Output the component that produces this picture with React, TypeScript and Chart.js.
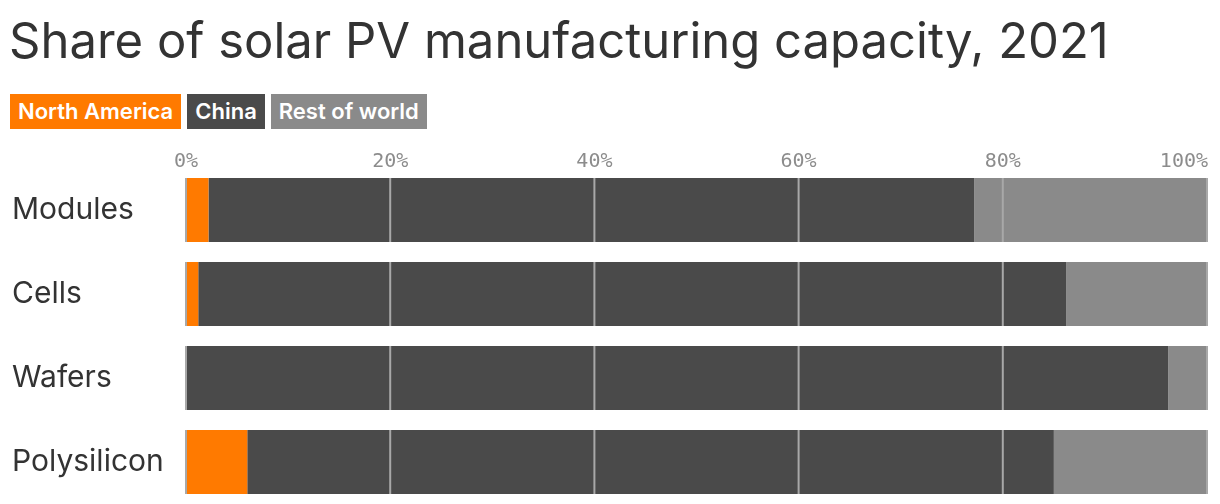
import React, { useEffect, useRef } from "react";
import { Chart, registerables } from "chart.js";

Chart.register(...registerables);

const categories = ["Modules", "Cells", "Wafers", "Polysilicon"];
const seriesNames = ["North America", "China", "Rest of world"];
const northAmerica = [2.2, 1.2, 0, 6.0];
const china = [75.0, 85.0, 96.2, 79.0];
const restOfWorld = [22.8, 13.8, 3.8, 15.0];
const tickValues = [0, 20, 40, 60, 80, 100];
const tickLabels = ["0%", "20%", "40%", "60%", "80%", "100%"];
const colors = ["#ff7a00", "#4a4a4a", "#8a8a8a"];

const tickLabelPlugin = {
  id: "topTickLabels",
  afterDatasetsDraw(chart: any) {
    const scale = chart.scales.x;
    const ctx = chart.ctx;
    ctx.save();
    // grid lines drawn only across the bars
    const meta = chart.getDatasetMeta(0);
    ctx.strokeStyle = "#a8a8a8";
    ctx.lineWidth = 2;
    meta.data.forEach((bar: any) => {
      const top = bar.y - bar.height / 2;
      const bottom = bar.y + bar.height / 2;
      tickValues.forEach((v) => {
        const x = scale.getPixelForValue(v);
        ctx.beginPath();
        ctx.moveTo(x, top);
        ctx.lineTo(x, bottom);
        ctx.stroke();
      });
    });
    ctx.font = "20px 'DejaVu Sans Mono', monospace";
    ctx.fillStyle = "#8c8c8c";
    ctx.textBaseline = "middle";
    tickValues.forEach((v, i) => {
      const x = scale.getPixelForValue(v);
      const last = i === tickValues.length - 1;
      ctx.textAlign = last ? "right" : "center";
      ctx.fillText(tickLabels[i], last ? x + 1 : x, 22);
    });
    ctx.restore();
  },
};

export default function App() {
  const ref = useRef<HTMLCanvasElement | null>(null);
  useEffect(() => {
    if (!ref.current) return;
    const data = [northAmerica, china, restOfWorld];
    const chart = new Chart(ref.current, {
      type: "bar",
      data: {
        labels: categories,
        datasets: seriesNames.map((name, i) => ({
          label: name,
          data: data[i],
          backgroundColor: colors[i],
          borderWidth: 0,
          barPercentage: 1,
          categoryPercentage: 64 / 84,
        })),
      },
      options: {
        indexAxis: "y",
        animation: false,
        responsive: false,
        maintainAspectRatio: false,
        layout: { padding: { top: 28, bottom: 0, left: 12, right: 13 } },
        plugins: {
          legend: { display: false },
          tooltip: { enabled: false },
        },
        scales: {
          x: {
            stacked: true,
            position: "top",
            min: 0,
            max: 100,
            ticks: { display: false, stepSize: 20 },
            grid: { display: false, drawTicks: false },
            border: { display: false },
          },
          y: {
            stacked: true,
            grid: { display: false },
            border: { display: false },
            ticks: {
              crossAlign: "far",
              padding: 0,
              color: "#333333",
              font: { family: "Inter, 'Noto Sans', sans-serif", size: 30 },
            },
            afterFit(scale: any) {
              scale.width = 174;
              scale.paddingTop = 0;
              scale.paddingBottom = 0;
            },
          },
        },
      } as any,
      plugins: [tickLabelPlugin],
    });
    return () => chart.destroy();
  }, []);

  const legendItem = (name: string, i: number) => (
    <div
      key={name}
      style={{
        background: colors[i],
        color: "#ffffff",
        height: 35,
        lineHeight: "35px",
        padding: "0 8px",
        fontSize: 22,
        fontWeight: 600,
        fontFamily: "Inter, 'Noto Sans', sans-serif",
        marginRight: 6,
      }}
    >
      {name}
    </div>
  );

  return (
    <div
      style={{
        position: "fixed",
        left: 0,
        top: 0,
        width: 1220,
        height: 504,
        background: "#ffffff",
        overflow: "hidden",
      }}
    >
      <div
        style={{
          position: "absolute",
          left: 9,
          top: 11,
          fontFamily: "Inter, 'Noto Sans', sans-serif",
          fontSize: 49,
          fontWeight: 400,
          color: "#333333",
          whiteSpace: "nowrap",
          lineHeight: "60px",
        }}
      >
        Share of solar PV manufacturing capacity, 2021
      </div>
      <div style={{ position: "absolute", left: 10, top: 94, display: "flex" }}>
        {seriesNames.map((n, i) => legendItem(n, i))}
      </div>
      <canvas
        ref={ref}
        width={1220}
        height={364}
        style={{ position: "absolute", left: 0, top: 140, width: 1220, height: 364 }}
      />
    </div>
  );
}
